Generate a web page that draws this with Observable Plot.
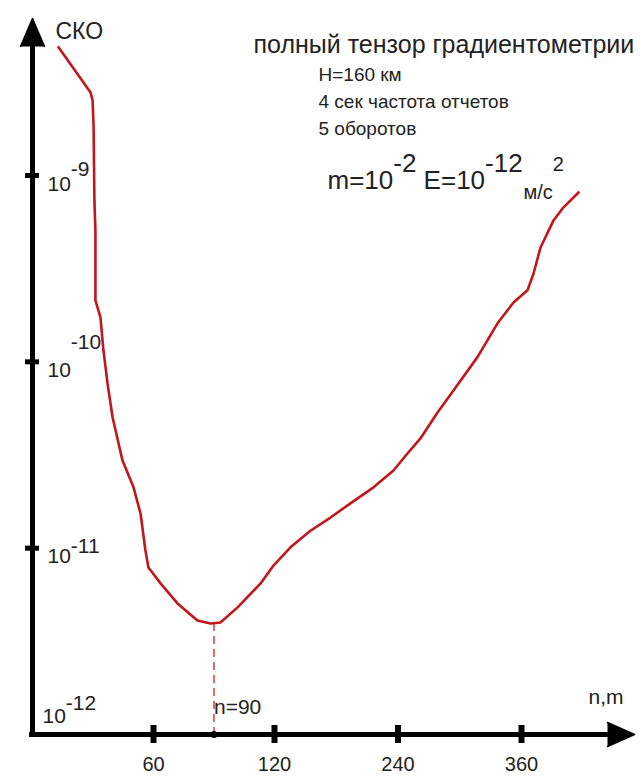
<!DOCTYPE html>
<html>
<head>
<meta charset="utf-8">
<script src="https://cdn.jsdelivr.net/npm/d3@7"></script>
<script src="https://cdn.jsdelivr.net/npm/@observablehq/plot@0.6"></script>
<style>
  html, body { margin: 0; padding: 0; background: #fff; }
  svg { display: block; }
</style>
</head>
<body>
<div id="chart"></div>
<script>
// ---- data ----
const nValues = [12.9, 28.8, 29.8, 30.3, 30.7, 31.2, 31.2, 33.7, 35.2, 37.2, 39.7, 44.6, 50.1, 53.6, 56.0, 57.5,
  63.5, 71.9, 81.8, 88.3, 93.2, 101.7, 113.1, 119.5, 135.5, 154.9, 174.4, 193.8, 216.2, 235.6, 249.2, 261.8,
  278.4, 293.9, 317.2, 336.7, 352.2, 365.8, 371.7, 378.5, 391.1, 400.8, 415.4];
const skoValues = [4.88e-9, 2.79e-9, 2.53e-9, 1.81e-9, 7.35e-10, 5.07e-10, 2.14e-10, 1.73e-10, 1.15e-10, 7.66e-11,
  5.04e-11, 2.96e-11, 2.12e-11, 1.53e-11, 9.72e-12, 7.87e-12, 6.47e-12, 5.05e-12, 4.09e-12, 3.94e-12, 3.99e-12,
  4.81e-12, 6.47e-12, 8.07e-12, 1.01e-11, 1.24e-11, 1.46e-11, 1.74e-11, 2.12e-11, 2.61e-11, 3.22e-11, 3.88e-11,
  5.35e-11, 7.02e-11, 1.06e-10, 1.61e-10, 2.08e-10, 2.42e-10, 2.98e-10, 4.11e-10, 5.74e-10, 6.75e-10, 8.11e-10];

const xTickValues = [60, 120, 240, 360];
const xTickLabels = ["60", "120", "240", "360"];
const yTickValues = [1e-9, 1e-10, 1e-11];
const yTickLabels = ["10^{-9}", "10^{-10}", "10^{-11}"];
const yOriginValue = 1e-12;
const yOriginLabel = "10^{-12}";
const nOptimum = 90;
const optimumLabel = "n=90";
const yAxisTitle = "СКО";
const xAxisTitle = "n,m";
const chartTitle = "полный тензор градиентометрии";
const infoLines = ["H=160 км", "4 сек частота отчетов", "5 оборотов"];
const formulaText = "m=10^{-2} E=10^{-12}";
const unitText = "м/с^{2}";

// ---- build ----
const data = nValues.map((n, i) => ({n, sko: skoValues[i]}));
const minPoint = data.reduce((a, b) => (b.sko < a.sko ? b : a));

const ink = "#000";
const red = "#c2151c";
const font = "'Liberation Sans', Arimo, Arial, sans-serif";

// superscript raise (px) per rich label
const supRaise = {
  "10^{-9}": 15, "10^{-10}": 28, "10^{-11}": 10, "10^{-12}": 13,
  "m=10^{-2} E=10^{-12}": 17, "м/с^{2}": 28
};

const note = (txt, dx, dy, fontSize) =>
  Plot.text([txt], {frameAnchor: "top-left", text: d => d, textAnchor: "start", lineAnchor: "bottom",
    dx, dy, fontSize, fill: "#222"});

const chart = Plot.plot({
  width: 640,
  height: 777,
  marginTop: 0,
  marginLeft: 32,
  marginRight: 30,
  marginBottom: 43,
  style: {fontFamily: font, background: "#fff", color: "#000"},
  x: {type: "linear", domain: [0, 120, 360], range: [32, 274, 521]},
  y: {type: "log", domain: [1e-12, 1e-9], range: [734, 175], axis: null},
  marks: [
    // dashed drop line at the optimum
    Plot.ruleX([nOptimum], {x: d => d, y1: minPoint.sko, y2: yOriginValue,
      stroke: "#d43c3c", strokeWidth: 1.5, strokeDasharray: "8,5"}),
    // axis lines
    Plot.ruleY([yOriginValue], {y: d => d, stroke: ink, strokeWidth: 5, insetLeft: -3}),
    Plot.ruleX([0], {x: d => d, stroke: ink, strokeWidth: 5, insetTop: 44, insetBottom: -3}),
    // arrow heads
    Plot.vector([0], {frameAnchor: "top-left", shape: "spike", anchor: "start", length: 28, r: 12,
      rotate: 0, dy: 46, fill: ink, stroke: ink}),
    Plot.vector([0], {frameAnchor: "bottom-right", shape: "spike", anchor: "start", length: 27, r: 12,
      rotate: 90, dx: -3, fill: ink, stroke: ink}),
    // crossing tick marks
    Plot.ruleX(xTickValues, {x: d => d, y1: yOriginValue, y2: yOriginValue, insetTop: -9, insetBottom: -9,
      stroke: ink, strokeWidth: 6}),
    Plot.ruleY(yTickValues, {y: d => d, x1: 0, x2: 0, insetLeft: -7, insetRight: -7,
      stroke: ink, strokeWidth: 5}),
    Plot.dot([nOptimum], {x: d => d, y: () => yOriginValue, r: 3.5, fill: ink}),
    // x axis labels
    Plot.axisX(xTickValues, {tickSize: 0, tickPadding: 22, fontSize: 20, label: null, fill: "#222",
      tickFormat: d => xTickLabels[xTickValues.indexOf(d)]}),
    // y axis labels
    Plot.text(yTickValues, {x: () => 0, y: d => d, text: (d, i) => yTickLabels[i], textAnchor: "start",
      lineAnchor: "bottom", dx: 15, dy: 15, fontSize: 21, fill: "#222"}),
    Plot.text([yOriginValue], {x: () => 0, y: d => d, text: () => yOriginLabel, textAnchor: "start",
      lineAnchor: "bottom", dx: 10, dy: -12, fontSize: 21, fill: "#222"}),
    // the curve
    Plot.line(data, {x: "n", y: "sko", stroke: red, strokeWidth: 2.6, strokeLinejoin: "round"}),
    // optimum label
    Plot.text([nOptimum], {x: d => d, y: () => yOriginValue, text: () => optimumLabel, textAnchor: "start",
      lineAnchor: "bottom", dx: 0, dy: -21, fontSize: 21, fill: "#222"}),
    // annotations
    note(yAxisTitle, 23, 38, 23),
    note(xAxisTitle, 556, 703, 21),
    note(chartTitle, 221, 52, 25),
    note(infoLines[0], 286, 80, 19),
    note(infoLines[1], 286, 107, 19),
    note(infoLines[2], 286, 134, 19),
    note(formulaText, 295, 188, 26),
    note(unitText, 491, 198, 20)
  ]
});

document.getElementById("chart").appendChild(chart);

// turn ^{...} into raised tspans (real text kept)
const SVGNS = "http://www.w3.org/2000/svg";
for (const el of chart.querySelectorAll("text")) {
  const raw = el.textContent;
  if (!/\^\{/.test(raw)) continue;
  const fs = parseFloat(getComputedStyle(el).fontSize) || 16;
  const up = supRaise[raw] ?? Math.round(fs * 0.6);
  while (el.firstChild) el.removeChild(el.firstChild);
  let cur = 0;
  const re = /\^\{([^}]*)\}|([^\^]+)/g;
  let m;
  while ((m = re.exec(raw))) {
    const target = m[1] !== undefined ? -up : 0;
    const t = document.createElementNS(SVGNS, "tspan");
    t.setAttribute("dy", target - cur);
    cur = target;
    t.textContent = m[1] !== undefined ? m[1] : m[2];
    el.appendChild(t);
  }
}
</script>
</body>
</html>
